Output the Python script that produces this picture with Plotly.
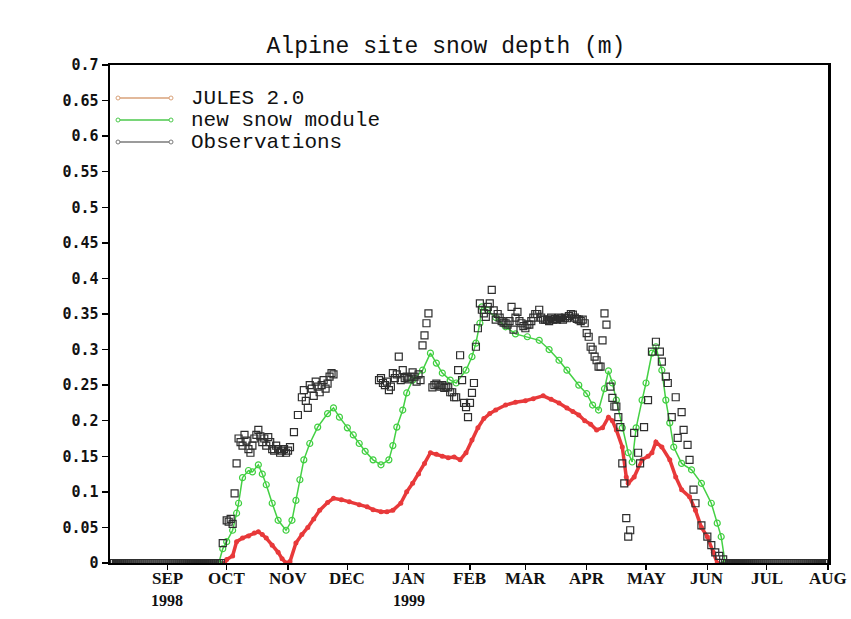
import plotly.graph_objects as go
import pandas as pd

# ---------------- data ----------------
jules_dates = ["1998-09-30","1998-10-01","1998-10-04","1998-10-06","1998-10-09","1998-10-12","1998-10-15","1998-10-17",
               "1998-10-19","1998-10-21","1998-10-24","1998-10-27","1998-10-29","1998-10-31","1998-11-02","1998-11-05",
               "1998-11-08","1998-11-11","1998-11-14","1998-11-17","1998-11-21","1998-11-24","1998-11-28","1998-12-02",
               "1998-12-07","1998-12-11","1998-12-14","1998-12-18","1998-12-21","1998-12-24","1998-12-28","1998-12-31",
               "1999-01-03","1999-01-06","1999-01-09","1999-01-12","1999-01-15","1999-01-18","1999-01-21","1999-01-24",
               "1999-01-27","1999-01-30","1999-02-02","1999-02-05","1999-02-08","1999-02-11","1999-02-14","1999-02-19",
               "1999-02-24","1999-03-01","1999-03-05","1999-03-10","1999-03-14","1999-03-18","1999-03-22","1999-03-25",
               "1999-03-28","1999-03-31","1999-04-03","1999-04-06","1999-04-09","1999-04-12","1999-04-14","1999-04-16",
               "1999-04-19","1999-04-21","1999-04-22","1999-04-25","1999-04-29","1999-05-02","1999-05-04","1999-05-06",
               "1999-05-09","1999-05-13","1999-05-16","1999-05-19","1999-05-23","1999-05-26","1999-05-29","1999-06-01",
               "1999-06-04","1999-06-06"]
jules_vals = [0.0,0.005,0.01,0.03,0.035,0.038,0.042,0.044,
              0.04,0.035,0.025,0.015,0.006,0.0,0.002,0.028,
              0.04,0.05,0.062,0.074,0.085,0.091,0.089,0.086,
              0.082,0.079,0.075,0.072,0.072,0.074,0.084,0.1,
              0.112,0.125,0.14,0.155,0.153,0.15,0.148,0.149,
              0.145,0.155,0.173,0.19,0.203,0.21,0.215,0.222,
              0.226,0.228,0.231,0.235,0.23,0.225,0.218,0.213,
              0.208,0.2,0.195,0.187,0.19,0.205,0.2,0.187,
              0.163,0.121,0.112,0.121,0.145,0.15,0.155,0.17,
              0.163,0.145,0.121,0.103,0.093,0.074,0.05,0.037,
              0.015,0.0]

new_dates = ["1998-09-27","1998-09-29","1998-10-01","1998-10-04","1998-10-06","1998-10-07","1998-10-09","1998-10-12",
             "1998-10-14","1998-10-17","1998-10-19","1998-10-21","1998-10-24","1998-10-27","1998-10-31","1998-11-03",
             "1998-11-05","1998-11-07","1998-11-09","1998-11-12","1998-11-16","1998-11-21","1998-11-24","1998-11-27",
             "1998-12-01","1998-12-04","1998-12-07","1998-12-10","1998-12-14","1998-12-18","1998-12-22","1998-12-24",
             "1998-12-26","1998-12-29","1998-12-31","1999-01-03","1999-01-08","1999-01-12","1999-01-15","1999-01-18",
             "1999-01-22","1999-01-25","1999-01-30","1999-02-02","1999-02-04","1999-02-06","1999-02-07","1999-02-10",
             "1999-02-14","1999-02-19","1999-02-24","1999-03-02","1999-03-08","1999-03-13","1999-03-18","1999-03-22",
             "1999-03-28","1999-04-01","1999-04-04","1999-04-07","1999-04-10","1999-04-12","1999-04-14","1999-04-16",
             "1999-04-19","1999-04-22","1999-04-24","1999-04-26","1999-04-29","1999-05-01","1999-05-04","1999-05-06",
             "1999-05-09","1999-05-11","1999-05-13","1999-05-15","1999-05-19","1999-05-24","1999-05-29","1999-06-03",
             "1999-06-06","1999-06-08","1999-06-10"]
new_vals = [0.0,0.02,0.03,0.046,0.07,0.084,0.12,0.13,
            0.128,0.138,0.125,0.11,0.084,0.06,0.046,0.06,
            0.088,0.117,0.145,0.168,0.191,0.21,0.218,0.205,
            0.19,0.18,0.168,0.157,0.145,0.138,0.145,0.165,
            0.191,0.215,0.239,0.257,0.271,0.295,0.281,0.267,
            0.257,0.253,0.271,0.29,0.309,0.337,0.36,0.355,
            0.345,0.332,0.322,0.318,0.313,0.3,0.285,0.271,
            0.25,0.238,0.222,0.215,0.245,0.27,0.253,0.229,
            0.19,0.155,0.142,0.19,0.229,0.253,0.295,0.304,
            0.271,0.229,0.197,0.163,0.14,0.131,0.112,0.084,
            0.056,0.037,0.0]

obs_dates = ["1998-09-29","1998-10-01","1998-10-02","1998-10-03","1998-10-04","1998-10-05","1998-10-06","1998-10-07",
             "1998-10-08","1998-10-09","1998-10-10","1998-10-11","1998-10-12","1998-10-13","1998-10-14","1998-10-15",
             "1998-10-16","1998-10-17","1998-10-18","1998-10-19","1998-10-20","1998-10-21","1998-10-22","1998-10-23",
             "1998-10-24","1998-10-25","1998-10-26","1998-10-27","1998-10-28","1998-10-29","1998-10-30","1998-10-31",
             "1998-11-01","1998-11-02","1998-11-04","1998-11-06","1998-11-08","1998-11-09","1998-11-10","1998-11-11",
             "1998-11-12","1998-11-13","1998-11-14","1998-11-15","1998-11-16","1998-11-17","1998-11-18","1998-11-19",
             "1998-11-20","1998-11-21","1998-11-22","1998-11-23","1998-11-24",
             "1998-12-17","1998-12-18","1998-12-19","1998-12-20","1998-12-21","1998-12-22","1998-12-23","1998-12-24",
             "1998-12-25","1998-12-26","1998-12-27","1998-12-28","1998-12-29","1998-12-30","1998-12-31","1999-01-01",
             "1999-01-02","1999-01-03","1999-01-04","1999-01-05","1999-01-06","1999-01-07","1999-01-08","1999-01-09",
             "1999-01-10","1999-01-11","1999-01-13","1999-01-14","1999-01-15","1999-01-16","1999-01-17","1999-01-18",
             "1999-01-19","1999-01-20","1999-01-21","1999-01-22","1999-01-23","1999-01-24","1999-01-25","1999-01-26",
             "1999-01-27","1999-01-28","1999-01-29","1999-01-30","1999-01-31","1999-02-01","1999-02-02","1999-02-03",
             "1999-02-04","1999-02-05","1999-02-06","1999-02-07","1999-02-08","1999-02-09","1999-02-10","1999-02-11",
             "1999-02-12","1999-02-13","1999-02-14","1999-02-15","1999-02-16","1999-02-17","1999-02-18","1999-02-19",
             "1999-02-20","1999-02-21","1999-02-22","1999-02-23","1999-02-24","1999-02-25","1999-02-26","1999-02-27",
             "1999-02-28","1999-03-01","1999-03-02","1999-03-03","1999-03-04","1999-03-05","1999-03-06","1999-03-07",
             "1999-03-08","1999-03-09","1999-03-10","1999-03-11","1999-03-12","1999-03-13","1999-03-14","1999-03-15",
             "1999-03-16","1999-03-17","1999-03-18","1999-03-19","1999-03-20","1999-03-21","1999-03-22","1999-03-23",
             "1999-03-24","1999-03-25","1999-03-26","1999-03-27","1999-03-28","1999-03-29","1999-03-30","1999-03-31",
             "1999-04-01","1999-04-02","1999-04-03","1999-04-04","1999-04-05","1999-04-06","1999-04-07","1999-04-08",
             "1999-04-09","1999-04-10","1999-04-11","1999-04-13","1999-04-14","1999-04-15","1999-04-16","1999-04-17",
             "1999-04-18","1999-04-19","1999-04-20","1999-04-21","1999-04-22","1999-04-23","1999-04-25","1999-04-27",
             "1999-04-28","1999-04-30","1999-05-02","1999-05-04","1999-05-06","1999-05-08","1999-05-09","1999-05-11",
             "1999-05-12","1999-05-14","1999-05-16","1999-05-17","1999-05-19","1999-05-20","1999-05-22","1999-05-23",
             "1999-05-25","1999-05-26","1999-05-29","1999-06-01","1999-06-03","1999-06-05","1999-06-07","1999-06-09"]
obs_vals = [0.028,0.06,0.058,0.062,0.055,0.098,0.14,0.175,
            0.17,0.165,0.18,0.172,0.16,0.155,0.165,0.175,
            0.18,0.187,0.178,0.17,0.175,0.165,0.177,0.17,
            0.16,0.158,0.165,0.16,0.155,0.158,0.16,0.155,
            0.158,0.163,0.184,0.208,0.233,0.243,0.228,0.218,
            0.25,0.245,0.235,0.255,0.248,0.24,0.25,0.257,
            0.245,0.252,0.262,0.267,0.265,
            0.257,0.26,0.253,0.25,0.255,0.243,0.248,0.267,
            0.26,0.265,0.29,0.257,0.271,0.26,0.262,0.258,
            0.261,0.268,0.262,0.255,0.265,0.257,0.306,0.32,
            0.337,0.351,0.247,0.25,0.252,0.25,0.248,0.25,
            0.246,0.248,0.247,0.24,0.24,0.233,0.233,0.271,
            0.292,0.257,0.225,0.219,0.205,0.225,0.239,0.253,
            0.304,0.33,0.365,0.356,0.351,0.346,0.36,0.365,
            0.384,0.355,0.342,0.35,0.345,0.34,0.338,0.337,
            0.335,0.34,0.36,0.328,0.345,0.353,0.34,0.337,
            0.333,0.33,0.335,0.335,0.34,0.345,0.35,0.35,
            0.356,0.345,0.342,0.342,0.342,0.34,0.345,0.342,
            0.343,0.342,0.345,0.344,0.342,0.345,0.344,0.347,
            0.35,0.349,0.345,0.343,0.342,0.34,0.342,0.337,
            0.323,0.318,0.304,0.3,0.29,0.285,0.276,0.276,
            0.313,0.351,0.335,0.248,0.232,0.22,0.22,0.205,
            0.191,0.14,0.112,0.063,0.037,0.046,0.183,0.155,
            0.14,0.191,0.229,0.297,0.311,0.297,0.283,0.262,
            0.253,0.205,0.233,0.176,0.212,0.187,0.166,0.145,
            0.103,0.084,0.053,0.037,0.025,0.015,0.01,0.005]

# snow-free periods: observed depth is zero every day
obs_zero_before = pd.date_range("1998-08-03", "1998-09-28", freq="D")
obs_zero_after = pd.date_range("1999-06-10", "1999-08-01", freq="D")

month_ticks = ["1998-09-01","1998-10-01","1998-11-01","1998-12-01","1999-01-01","1999-02-01",
               "1999-03-01","1999-04-01","1999-05-01","1999-06-01","1999-07-01","1999-08-01"]
month_labels = ["SEP","OCT","NOV","DEC","JAN","FEB","MAR","APR","MAY","JUN","JUL","AUG"]
year_ticks = ["1998-09-01", "1999-01-01"]
year_labels = ["1998", "1999"]
y_ticks = [0,0.05,0.1,0.15,0.2,0.25,0.3,0.35,0.4,0.45,0.5,0.55,0.6,0.65,0.7]
y_labels = ["0","0.05","0.1","0.15","0.2","0.25","0.3","0.35","0.4","0.45","0.5","0.55","0.6","0.65","0.7"]

legend_names = ["JULES 2.0", "new snow module", "Observations"]
legend_colors = ["#d9a27a", "#4cc94c", "#7a7a7a"]

# ---------------- figure ----------------
W, H = 851, 619
ML, MR, MT, MB = 110, 23, 65, 56
PW, PH = W - ML - MR, H - MT - MB

fig = go.Figure()

obs_x = list(obs_zero_before.strftime("%Y-%m-%d")) + obs_dates + list(obs_zero_after.strftime("%Y-%m-%d"))
obs_y = [0.0] * len(obs_zero_before) + obs_vals + [0.0] * len(obs_zero_after)

fig.add_trace(go.Scatter(x=jules_dates, y=jules_vals, mode="lines+markers",
                         line=dict(color="#e8393a", width=3.5),
                         marker=dict(symbol="circle", size=5, color="#e8393a"),
                         name=legend_names[0], showlegend=False, hoverinfo="skip"))
fig.add_trace(go.Scatter(x=new_dates, y=new_vals, mode="lines+markers",
                         line=dict(color="#44d044", width=1.5),
                         marker=dict(symbol="circle-open", size=6, color="#3fcf3f", line=dict(width=1.2)),
                         name=legend_names[1], showlegend=False, hoverinfo="skip"))
fig.add_trace(go.Scatter(x=obs_x, y=obs_y, mode="markers",
                         marker=dict(symbol="square-open", size=7, color="#2e2e2e", line=dict(width=1.2)),
                         name=legend_names[2], showlegend=False, hoverinfo="skip"))

def px_x(p):
    return (p - ML) / PW
def px_y(p):
    return (H - MB - p) / PH

# custom legend (line with small end markers, text on the right)
leg_y_px = [98, 120, 142]
lx0, lx1, ltx = 118, 171, 190
for name, col, yp in zip(legend_names, legend_colors, leg_y_px):
    fig.add_shape(type="line", xref="paper", yref="paper",
                  x0=px_x(lx0), x1=px_x(lx1), y0=px_y(yp), y1=px_y(yp),
                  line=dict(color=col, width=1.5))
    for xe in (lx0, lx1):
        fig.add_shape(type="circle", xref="paper", yref="paper",
                      x0=px_x(xe - 2), x1=px_x(xe + 2), y0=px_y(yp + 2), y1=px_y(yp - 2),
                      line=dict(color=col, width=1), fillcolor="white")
    fig.add_annotation(xref="paper", yref="paper", x=px_x(ltx), y=px_y(yp),
                       text=name, showarrow=False, xanchor="left", yanchor="middle",
                       borderpad=0, font=dict(family="Liberation Mono", size=21, color="#111111"))

# month and year labels under the x axis
for xv, txt in zip(month_ticks, month_labels):
    fig.add_annotation(xref="x", yref="paper", x=xv, y=px_y(578),
                       text=txt, showarrow=False, xanchor="center", yanchor="middle", borderpad=0,
                       font=dict(family="Liberation Serif", size=17, color="#111111", weight="bold"))
for xv, txt in zip(year_ticks, year_labels):
    fig.add_annotation(xref="x", yref="paper", x=xv, y=px_y(600),
                       text=txt, showarrow=False, xanchor="center", yanchor="middle", borderpad=0,
                       font=dict(family="Liberation Serif", size=16, color="#111111", weight="bold"))

fig.update_layout(
    width=W, height=H,
    margin=dict(l=ML, r=MR, t=MT, b=MB),
    paper_bgcolor="white", plot_bgcolor="white",
    title=dict(text="Alpine site snow depth (m)", x=446 / W, xanchor="center",
               y=1 - 45 / H, yanchor="middle",
               font=dict(family="Liberation Mono", size=23, color="#111111")),
    showlegend=False,
)
fig.update_xaxes(type="date", range=["1998-08-03", "1999-08-01"],
                 tickvals=month_ticks, showticklabels=False,
                 ticks="outside", ticklen=5, tickwidth=1.5, tickcolor="black",
                 showline=True, linecolor="black", linewidth=2, mirror=True,
                 showgrid=False, zeroline=False)
fig.update_yaxes(range=[0, 0.7], tickvals=y_ticks, ticktext=y_labels,
                 ticks="outside", ticklen=6, tickwidth=1.5, tickcolor="black",
                 showline=True, linecolor="black", linewidth=2.5, mirror=True,
                 showgrid=False, zeroline=False,
                 tickfont=dict(family="DejaVu Sans Mono", size=15, color="#111111", weight="bold"))

fig.write_html("out.html", config={"displayModeBar": False, "staticPlot": True},
               post_script="document.body.style.margin='0';document.body.style.overflow='hidden';")
